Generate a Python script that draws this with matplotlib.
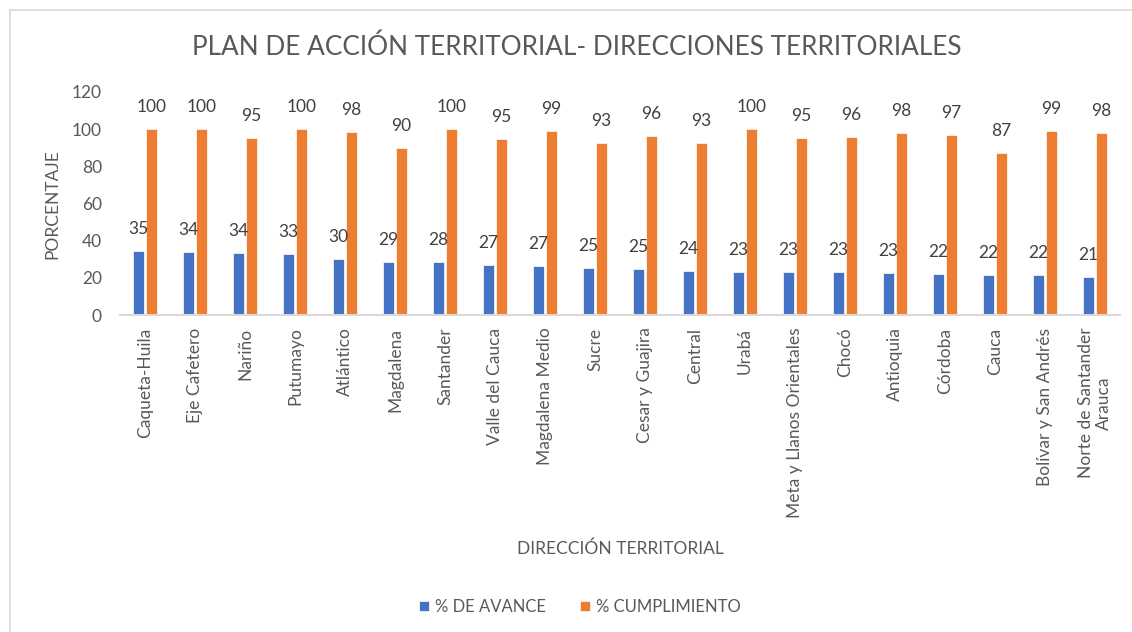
import numpy as np
import matplotlib
matplotlib.use("Agg")
import matplotlib.pyplot as plt
from matplotlib.lines import Line2D

plt.rcParams['font.family'] = ['Lato', 'DejaVu Sans']

# datos
direcciones = ["Caqueta-Huila", "Eje Cafetero", "Nariño", "Putumayo", "Atlántico",
               "Magdalena", "Santander", "Valle del Cauca", "Magdalena Medio", "Sucre",
               "Cesar y Guajira", "Central", "Urabá", "Meta y Llanos Orientales", "Chocó",
               "Antioquia", "Córdoba", "Cauca", "Bolívar y San Andrés",
               "Norte de Santander\nArauca"]
avance = [34.6, 33.9, 33.6, 32.8, 30.1, 28.6, 28.4, 27.0, 26.6, 25.4,
          24.6, 23.8, 23.1, 23.1, 23.1, 22.6, 22.0, 21.6, 21.6, 20.6]
cumplimiento = [100, 100, 95.4, 100, 98.4, 90, 100, 94.6, 99.2, 92.8,
                96.2, 92.8, 100, 95.2, 95.8, 98.2, 97, 87.2, 99.2, 98.2]

azul = '#4472C4'
naranja = '#ED7D31'
gris = '#595959'

fig = plt.figure(figsize=(11.32, 6.32), dpi=100)
ax = fig.add_axes([120/1132, 1-315/632, 1000/1132, 223/632])

x = np.arange(len(direcciones))
w = 0.23
b1 = ax.bar(x - 0.13, avance, w, color=azul, edgecolor='white', linewidth=0.5, label='% DE AVANCE')
b2 = ax.bar(x + 0.13, cumplimiento, w, color=naranja, edgecolor='white', linewidth=0.5, label='% CUMPLIMIENTO')

ax.bar_label(b1, labels=[f"{v:.0f}" for v in avance], padding=10, fontsize=12.5, color='#404040')
ax.bar_label(b2, labels=[f"{v:.0f}" for v in cumplimiento], padding=10, fontsize=12.5, color='#404040')

ax.set_xlim(-0.5, len(direcciones) - 0.5)
ax.set_ylim(0, 120)
ax.set_yticks(np.arange(0, 121, 20))
ax.set_xticks(x)
ax.set_xticklabels(direcciones, rotation=90, ha='center', va='top', multialignment='center')
ax.tick_params(axis='x', length=0, pad=9, labelsize=12.5, labelcolor=gris)
ax.tick_params(axis='y', length=0, pad=13, labelsize=12.5, labelcolor=gris)

for s in ['top', 'right', 'left']:
    ax.spines[s].set_visible(False)
ax.spines['bottom'].set_color('#D9D9D9')
ax.spines['bottom'].set_linewidth(1.5)

fig.text(577/1132, 1-47/632, 'PLAN DE ACCIÓN TERRITORIAL- DIRECCIONES TERRITORIALES',
         ha='center', va='center', fontsize=18.8, color=gris)
fig.text(52/1132, 1-204/632, 'PORCENTAJE', rotation=90, ha='center', va='center',
         fontsize=12.5, color=gris)
fig.text(620/1132, 1-549/632, 'DIRECCIÓN TERRITORIAL', ha='center', va='center',
         fontsize=12.5, color=gris)

leg = fig.legend(handles=[b1, b2], loc='center', bbox_to_anchor=(580/1132, 1-607/632),
                 ncol=2, frameon=False, fontsize=12, handlelength=0.6, handleheight=0.6,
                 columnspacing=2.0, handletextpad=0.4)
for t in leg.get_texts():
    t.set_color(gris)

# borde del grafico
fig.add_artist(Line2D([10/1132, 10/1132], [0, 1-10/632], color='#D9D9D9', linewidth=1.2))
fig.add_artist(Line2D([10/1132, 1], [1-10/632, 1-10/632], color='#D9D9D9', linewidth=1.2))

fig.savefig('out.png', dpi=100)
